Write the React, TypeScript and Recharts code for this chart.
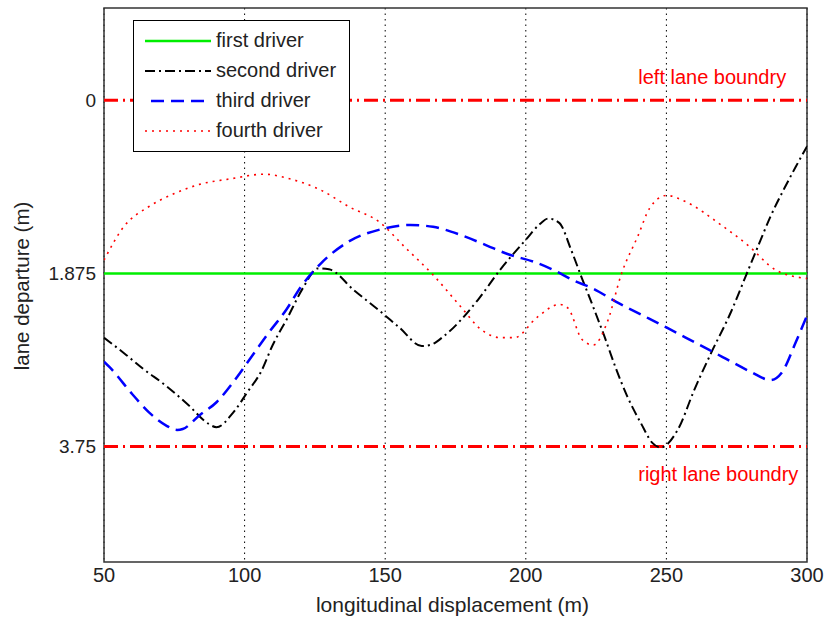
import { LineChart, Line, XAxis, YAxis, CartesianGrid, ReferenceLine, ReferenceArea, Legend, Label } from 'recharts'

// axis ticks
const X_TICKS = [50, 100, 150, 200, 250, 300]
const Y_TICKS = [0, 1.875, 3.75]

// lane boundaries (m)
const LEFT_BOUNDARY = 0
const RIGHT_BOUNDARY = 3.75

// first driver – keeps the lane centre
const FIRST_X = [50, 300]
const FIRST_Y = [1.875, 1.875]

// second driver
const SECOND_X = [50, 58, 64, 72, 80, 87, 90, 96, 101, 106, 110, 115, 121, 126, 130, 139, 148, 155, 163, 166, 171, 183, 191, 200, 205, 208, 212, 216, 220, 224, 228, 232, 236, 241, 245, 248, 254, 260, 266, 273, 278, 283, 287, 292, 296, 300]
const SECOND_Y = [2.57, 2.76, 2.91, 3.09, 3.3, 3.5, 3.54, 3.38, 3.16, 2.93, 2.65, 2.37, 2.02, 1.82, 1.83, 2.06, 2.28, 2.46, 2.66, 2.65, 2.55, 2.16, 1.83, 1.51, 1.34, 1.28, 1.33, 1.61, 1.93, 2.24, 2.56, 2.9, 3.2, 3.5, 3.71, 3.76, 3.57, 3.13, 2.73, 2.29, 1.92, 1.55, 1.26, 0.95, 0.72, 0.5]

// third driver
const THIRD_X = [50, 52, 60, 66, 72, 76, 78, 84, 90, 96, 101, 108, 115, 120, 127, 137, 148, 159, 167, 177, 186, 194, 203, 210, 217, 224, 232, 241, 250, 260, 270, 280, 287, 291, 296, 300]
const THIRD_Y = [2.83, 2.89, 3.18, 3.38, 3.52, 3.57, 3.56, 3.41, 3.27, 3.05, 2.84, 2.54, 2.26, 2.02, 1.77, 1.53, 1.4, 1.35, 1.37, 1.46, 1.57, 1.67, 1.75, 1.84, 1.95, 2.04, 2.18, 2.32, 2.46, 2.62, 2.78, 2.94, 3.03, 2.95, 2.62, 2.33]

// fourth driver
const FOURTH_X = [50, 57, 66, 75, 84, 95, 107, 116, 127, 137, 148, 157, 167, 177, 184, 191, 196, 204, 212, 215, 220, 224, 229, 234, 240, 244, 250, 257, 269, 279, 289, 300]
const FOURTH_Y = [1.73, 1.37, 1.15, 1.01, 0.91, 0.85, 0.8, 0.85, 0.97, 1.15, 1.32, 1.59, 1.89, 2.24, 2.48, 2.57, 2.57, 2.35, 2.21, 2.25, 2.59, 2.65, 2.4, 1.88, 1.46, 1.17, 1.03, 1.1, 1.34, 1.57, 1.84, 1.93]

const toPoints = (xs: number[], ys: number[]) => xs.map((x, i) => ({ x, y: ys[i] }))

const SERIES = [
  { name: 'first driver', data: toPoints(FIRST_X, FIRST_Y) },
  { name: 'second driver', data: toPoints(SECOND_X, SECOND_Y) },
  { name: 'third driver', data: toPoints(THIRD_X, THIRD_Y) },
  { name: 'fourth driver', data: toPoints(FOURTH_X, FOURTH_Y) },
]

// line styles, same order as SERIES
const STYLES = [
  { color: '#00ee00', width: 2.5, dash: undefined as string | undefined, inset: 0 },
  { color: '#000000', width: 2, dash: '10 4 2 4', inset: 0 },
  { color: '#0000ff', width: 2.5, dash: '13 7', inset: 6 },
  { color: '#ff0000', width: 1.6, dash: '2 5', inset: 0 },
]

const FONT = '"Liberation Sans", Arial, Helvetica, sans-serif'
const TEXT = '#222'

const LegendBox = () => (
  <svg width={218} height={132} style={{ display: 'block' }}>
    <rect x={0.5} y={0.5} width={216} height={131} fill="#fff" stroke="#000" />
    {SERIES.map((s, i) => (
      <g key={s.name}>
        <line x1={12 + STYLES[i].inset} x2={78} y1={21 + i * 30} y2={21 + i * 30}
          stroke={STYLES[i].color} strokeWidth={STYLES[i].width} strokeDasharray={STYLES[i].dash} />
        <text x={83} y={27 + i * 30} fontSize={20} fill={TEXT} fontFamily={FONT}>{s.name}</text>
      </g>
    ))}
  </svg>
)

const laneLabel = (text: string, dy: number) => (props: any) => {
  const vb = props.viewBox
  return (
    <text x={vb.x + vb.width * (190 / 250)} y={vb.y + dy} fontSize={20} fill="#ff0000" fontFamily={FONT}>
      {text}
    </text>
  )
}

export default function App() {
  return (
    <div style={{ position: 'absolute', left: 0, top: 0, background: '#fff' }}>
      <LineChart width={825} height={621} margin={{ top: 8, right: 18, bottom: 19, left: 44 }} style={{ fontFamily: FONT }}>
        <CartesianGrid horizontal={false} stroke="#000" strokeDasharray="1.5 4" />
        <XAxis type="number" dataKey="x" domain={[50, 300]} ticks={X_TICKS} allowDataOverflow
          axisLine={false} tickLine={false} tickSize={0} tickMargin={6} height={40}
          tick={{ fontSize: 20, fill: TEXT }}>
          <Label content={(p: any) => (
            <text x={p.viewBox.x + p.viewBox.width / 2 - 3} y={p.viewBox.y + 50} textAnchor="middle" fontSize={21} fill={TEXT}>
              longitudinal displacement (m)
            </text>
          )} />
        </XAxis>
        <YAxis type="number" domain={[-1, 5]} reversed ticks={Y_TICKS} allowDataOverflow width={60}
          axisLine={false} tickLine={false} tickSize={0} tickMargin={8} tick={{ fontSize: 19, fill: TEXT }}>
          <Label content={() => (
            <text x={29} y={286} transform="rotate(-90, 29, 286)" textAnchor="middle" fontSize={20.5} fill={TEXT}>
              lane departure (m)
            </text>
          )} />
        </YAxis>
        <ReferenceLine y={LEFT_BOUNDARY} stroke="#ff0000" strokeWidth={3} strokeDasharray="14 5 2 5"
          label={laneLabel('left lane boundry', -16)} />
        <ReferenceLine y={RIGHT_BOUNDARY} stroke="#ff0000" strokeWidth={3} strokeDasharray="14 5 2 5"
          label={laneLabel('right lane boundry', 34)} />
        {SERIES.map((s, i) => (
          <Line key={s.name} data={s.data} dataKey="y" name={s.name} type="monotone" dot={false} activeDot={false}
            stroke={STYLES[i].color} strokeWidth={STYLES[i].width} strokeDasharray={STYLES[i].dash}
            isAnimationActive={false} />
        ))}
        <ReferenceArea x1={50} x2={300} y1={-1} y2={5} fill="none" stroke="#333" strokeWidth={1.5} />
        <Legend layout="vertical" align="center" verticalAlign="middle" content={<LegendBox />}
          wrapperStyle={{ left: 133, top: 20, width: 218, height: 132 }} />
      </LineChart>
    </div>
  )
}
